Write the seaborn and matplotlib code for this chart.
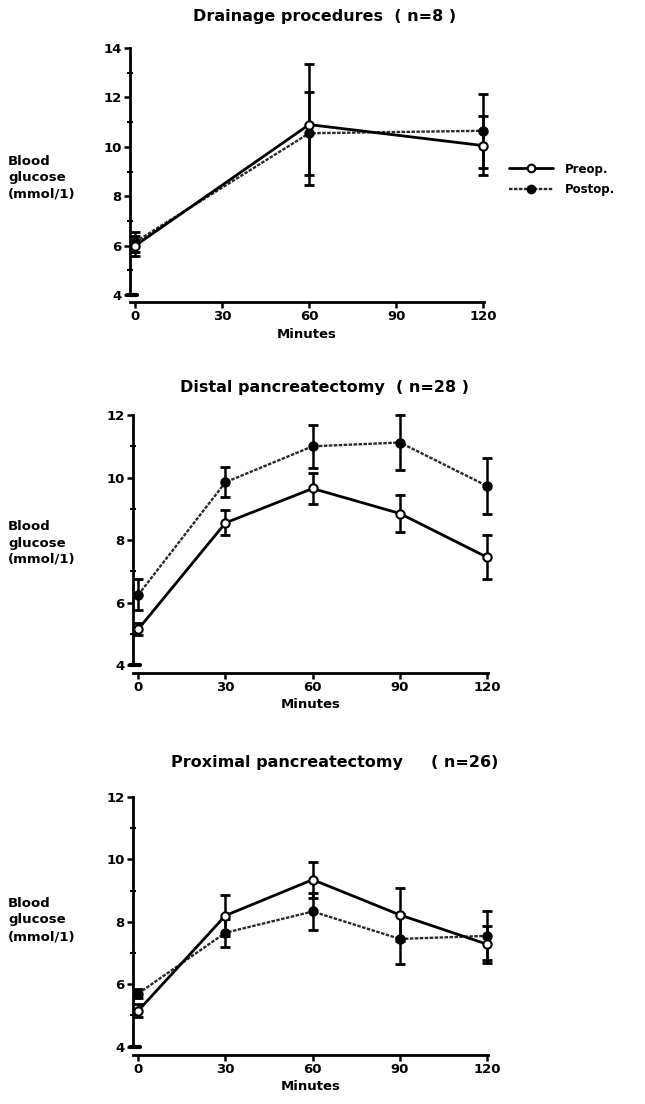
import matplotlib
matplotlib.use("Agg")
import matplotlib.pyplot as plt
from matplotlib.lines import Line2D
from matplotlib.ticker import MultipleLocator
import seaborn as sns
import pandas as pd

# ---------------- data ----------------
minutes_top = [0, 60, 120]
minutes = [0, 30, 60, 90, 120]

drain_pre = [6.0, 10.9, 10.05]
drain_pre_err = [0.4, 2.45, 1.2]
drain_post = [6.15, 10.55, 10.65]
drain_post_err = [0.4, 1.67, 1.5]

distal_pre = [5.15, 8.55, 9.65, 8.85, 7.45]
distal_pre_err = [0.2, 0.4, 0.48, 0.6, 0.7]
distal_post = [6.25, 9.85, 11.0, 11.12, 9.73]
distal_post_err = [0.5, 0.48, 0.68, 0.88, 0.88]

prox_pre = [5.15, 8.2, 9.35, 8.22, 7.28]
prox_pre_err = [0.2, 0.65, 0.58, 0.85, 0.6]
prox_post = [5.7, 7.65, 8.33, 7.45, 7.55]
prox_post_err = [0.15, 0.45, 0.6, 0.8, 0.78]

titles = ["Drainage procedures  ( n=8 )",
          "Distal pancreatectomy  ( n=28 )",
          "Proximal pancreatectomy     ( n=26)"]
xticks = [0, 30, 60, 90, 120]
series_names = ["Preop.", "Postop."]
ylabel = "Blood\nglucose\n(mmol/1)"
xlabel = "Minutes"

# ---------------- style ----------------
sns.set_style("ticks")
plt.rcParams["font.family"] = ["DejaVu Sans"]
plt.rcParams["font.weight"] = "bold"
for k in ["text.color", "axes.labelcolor", "xtick.color", "ytick.color", "axes.edgecolor"]:
    plt.rcParams[k] = "black"

W, H = 645, 1104
fig = plt.figure(figsize=(W / 100, H / 100), dpi=100)


def px_axes(left, right, top, bottom):
    return fig.add_axes([left / W, 1 - bottom / H, (right - left) / W, (bottom - top) / H])


pre_style = dict(color="black", linewidth=2.0, linestyle="-")
post_style = dict(color="#2a2a2a", linewidth=1.7, linestyle=(0, (1.5, 0.6)))


def draw_panel(ax, x, pre, pre_err, post, post_err, ylim, yticks):
    df = pd.DataFrame({"Minutes": list(x) * 2,
                       "Glucose": list(pre) + list(post),
                       "Group": [series_names[0]] * len(x) + [series_names[1]] * len(x)})
    for name, st, mfc in [(series_names[1], post_style, "black"),
                          (series_names[0], pre_style, "white")]:
        sub = df[df["Group"] == name]
        err = post_err if name == series_names[1] else pre_err
        ax.errorbar(sub["Minutes"], sub["Glucose"], yerr=err, fmt="none",
                    ecolor="black", elinewidth=1.8, capsize=3.5, capthick=2.0,
                    clip_on=False, zorder=2)
        sns.lineplot(data=sub, x="Minutes", y="Glucose", ax=ax, marker="o",
                     markersize=6, markerfacecolor=mfc, markeredgecolor="black",
                     markeredgewidth=1.5, clip_on=False, zorder=3, legend=False, **st)
    ax.set_xlim(-1.8, 120.3)
    ax.set_ylim(*ylim)
    ax.set_xticks(xticks)
    ax.set_yticks(yticks)
    ax.yaxis.set_minor_locator(MultipleLocator(1))
    ax.tick_params(axis="both", which="major", direction="out", length=4, width=1.8,
                   labelsize=9.5, pad=2, colors="black")
    ax.tick_params(axis="y", which="minor", direction="inout", length=4, width=1.5,
                   colors="black")
    for lab in ax.get_xticklabels() + ax.get_yticklabels():
        lab.set_fontweight("bold")
    for s in ["top", "right"]:
        ax.spines[s].set_visible(False)
    for s in ["left", "bottom"]:
        ax.spines[s].set_linewidth(2.0)
        ax.spines[s].set_color("black")
    ax.spines["left"].set_bounds(4, yticks[-1])
    ax.set_xlabel(xlabel, fontsize=9.5, fontweight="bold", labelpad=3, color="black")
    ax.set_ylabel("")
    # axis break mark at the origin
    ax.plot([-2.8, 0.6], [4, 4], color="black", linewidth=3, clip_on=False, zorder=4)


ax1 = px_axes(130, 484, 48, 302)
draw_panel(ax1, minutes_top, drain_pre, drain_pre_err, drain_post, drain_post_err,
           (3.72, 14.0), [4, 6, 8, 10, 12, 14])

ax2 = px_axes(133, 488, 415, 673)
draw_panel(ax2, minutes, distal_pre, distal_pre_err, distal_post, distal_post_err,
           (3.75, 12.0), [4, 6, 8, 10, 12])

ax3 = px_axes(133, 488, 797, 1055)
draw_panel(ax3, minutes, prox_pre, prox_pre_err, prox_post, prox_post_err,
           (3.73, 12.0), [4, 6, 8, 10, 12])

# titles
for (cx, cy), t in zip([(325, 16), (325, 387), (335, 763)], titles):
    fig.text(cx / W, 1 - cy / H, t, ha="center", va="center", fontsize=11.5,
             fontweight="bold", color="black")

# y labels
for cy in [178, 543, 920]:
    fig.text(8 / W, 1 - cy / H, ylabel, ha="left", va="center", fontsize=9.5,
             fontweight="bold", linespacing=1.35, color="black")

# legend
handles = [Line2D([0], [0], marker="o", markersize=5.5, markerfacecolor="white",
                  markeredgecolor="black", markeredgewidth=1.5, **pre_style),
           Line2D([0], [0], marker="o", markersize=5.5, markerfacecolor="black",
                  markeredgecolor="black", markeredgewidth=1.5, **post_style)]
fig.legend(handles, series_names, loc="upper left",
           bbox_to_anchor=(498 / W, 1 - 152 / H), frameon=False,
           handlelength=3.8, handletextpad=1.0, labelspacing=0.6,
           prop={"size": 8.5, "weight": "bold"})

fig.savefig("out.png", dpi=100)
